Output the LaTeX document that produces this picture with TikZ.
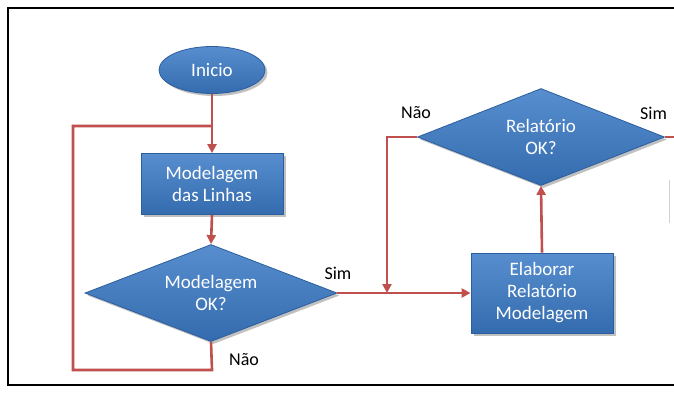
\documentclass[tikz,border=0pt]{standalone}
\usepackage{fontspec}
\setmainfont{Carlito}
\usetikzlibrary{shapes.geometric,arrows.meta,shadows}
\definecolor{boxblue}{HTML}{3A7AC6}
\definecolor{boxedge}{HTML}{2B5E9E}
\definecolor{flowred}{HTML}{C0504D}
\tikzset{
  shape base/.style={draw=boxedge, line width=0.8pt, top color=boxblue!85!white,
    bottom color=boxblue!88!black, text=white, align=center, inner sep=0pt,
    font=\fontsize{19}{22}\selectfont,
    drop shadow={shadow xshift=2.5pt, shadow yshift=-2.5pt, opacity=0.35, fill=black!70}},
  startnode/.style={shape base, ellipse, minimum width=106pt, minimum height=47pt},
  procbox/.style={shape base, rectangle, minimum width=142pt},
  decision/.style={shape base, diamond, aspect=2.6},
  flow/.style={draw=flowred, line width=2.6pt},
  flowarrow/.style={flow, -{Triangle[length=9pt,width=9pt]}},
  answer/.style={font=\fontsize{18}{20}\selectfont, text=black, inner sep=0pt},
}
\begin{document}
\begin{tikzpicture}[x=1pt,y=-1pt]
\useasboundingbox (0,0) rectangle (674,392);
\clip (0,0) rectangle (674,392);
\fill[white] (0,0) rectangle (674,392);
% outer frame
\draw[black, line width=2pt] (8,8) rectangle (700,385);

% nodes
\node[startnode] (ini) at (212,70) {Inicio};
\node[procbox, minimum height=61pt] (mod) at (212,184) {Modelagem\\das Linhas};
\node[decision, minimum width=252pt, minimum height=97pt] (dmod) at (211,293) {Modelagem\\OK?};
\node[procbox, minimum height=80pt] (rel) at (542,293) {Elaborar\\Relatório\\Modelagem};
\node[decision, minimum width=247pt, minimum height=97pt] (drel) at (541,137) {Relatório\\OK?};

% labels
\node[answer] (sim1) at (338,273) {Sim};
\node[answer] (nao1) at (244,360) {Não};
\node[answer] (nao2) at (416,113) {Não};
\node[answer, anchor=west] (sim2) at (640,113) {Sim};

% route points
\coordinate (loopin) at (212,126);
\coordinate (loopul) at (73,126);
\coordinate (loopll) at (73,370);
\coordinate (looplr) at (212,370);
\coordinate (join) at (387,293);
\coordinate (backup) at (387,137);
\coordinate (outright) at (700,137);

% connectors
\draw[flow] (dmod.south) -- (looplr) -- (loopll) -- (loopul) -- (loopin);
\draw[flowarrow] (ini.south) -- (mod.north);
\draw[flowarrow] (mod.south) -- (dmod.north);
\draw[flowarrow] (dmod.east) -- (rel.west);
\draw[flowarrow] (drel.west) -- (backup) -- (join);
\draw[flowarrow] (rel.north) -- (drel.south);
\draw[flow] (drel.east) -- (outright);

% faint edge at the right margin
\draw[black!18, line width=0.8pt] (669,180) -- (669,223);
\end{tikzpicture}
\end{document}
